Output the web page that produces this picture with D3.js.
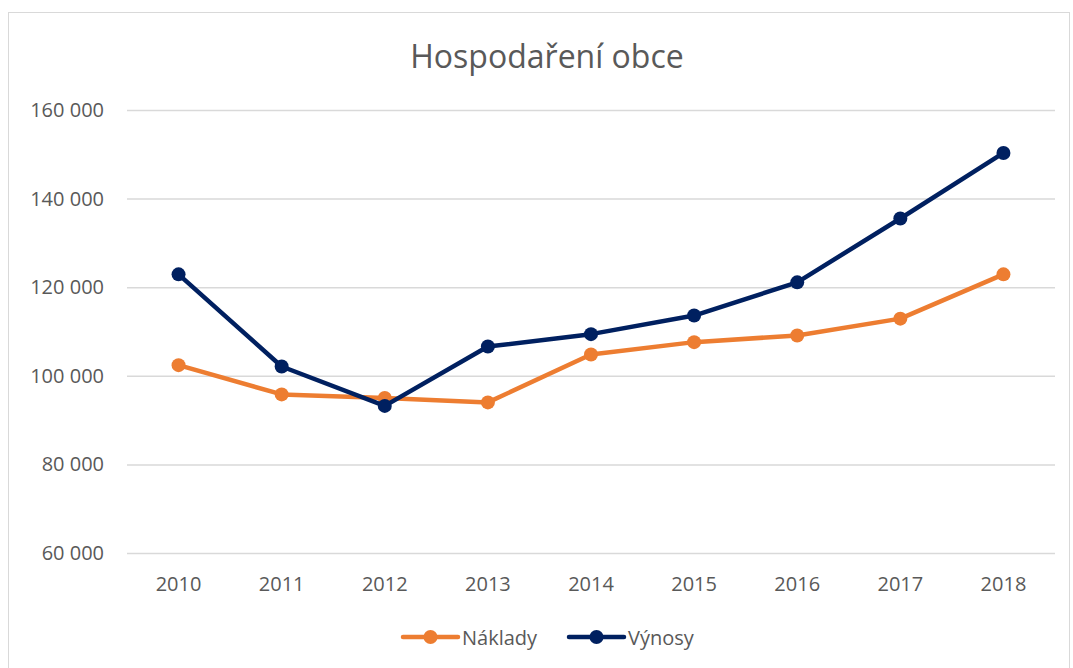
<!DOCTYPE html>
<html>
<head>
<meta charset="utf-8">
<script src="https://cdn.jsdelivr.net/npm/d3@7"></script>
<style>
  html, body { margin: 0; padding: 0; background: #fff; }
  svg text { font-family: "Open Sans", "Liberation Sans", sans-serif; fill: #595959; }
</style>
</head>
<body>
<div id="line-chart"></div>
<script>
// chart data
const years = ["2010", "2011", "2012", "2013", "2014", "2015", "2016", "2017", "2018"];
const naklady = [102400, 95800, 95000, 94000, 104800, 107600, 109100, 112900, 122900];
const vynosy = [122900, 102100, 93200, 106600, 109400, 113600, 121100, 135500, 150300];
const yTicks = [60000, 80000, 100000, 120000, 140000, 160000];
const seriesNames = ["Náklady", "Výnosy"];

function drawChart(cWidth, cHeight) {
  const margin = { left: 127, top: 110, right: 18, bottom: 115 },
    colors = ["#ed7d31", "#002060"],
    w = cWidth - margin.left - margin.right,
    h = cHeight - margin.top - margin.bottom,
    svg = d3
      .select("#line-chart")
      .append("svg")
      .attr("width", cWidth)
      .attr("height", cHeight);

  // chart border
  svg.append("rect")
    .attr("x", 8.5).attr("y", 12.5)
    .attr("width", cWidth - 12).attr("height", cHeight)
    .attr("fill", "none")
    .attr("stroke", "#d9d9d9");

  svg.append("text")
    .attr("x", 547).attr("y", 68)
    .attr("text-anchor", "middle")
    .style("font-size", "32px")
    .text("Hospodaření obce");

  const svgG = svg.append("g")
      .attr("transform", `translate(${margin.left}, ${margin.top})`),
    x = d3.scaleBand().domain(years).range([0, w]),
    y = d3.scaleLinear().domain([60000, 160000]).range([h, 0]);

  const fmt = d => d3.format(",")(d).replace(/,/g, " ");

  const yAxis = svgG.append("g")
    .call(d3.axisLeft(y).tickValues(yTicks).tickSize(-w).tickFormat(fmt));
  yAxis.select(".domain").remove();
  yAxis.selectAll(".tick line").attr("stroke", "#d9d9d9").attr("stroke-width", 1.5);
  yAxis.selectAll(".tick text")
    .attr("x", -23)
    .style("font-size", "20px");

  const xAxis = svgG.append("g")
    .attr("transform", `translate(0, ${h})`)
    .call(d3.axisBottom(x).tickSize(0));
  xAxis.select(".domain").remove();
  xAxis.selectAll(".tick text")
    .attr("y", 38)
    .attr("dy", 0)
    .style("font-size", "20px");

  const cx = d => x(d) + x.bandwidth() / 2;
  const line = d3.line().x((d, i) => cx(years[i])).y(d => y(d));

  [naklady, vynosy].forEach((vals, i) => {
    svgG.append("path")
      .datum(vals)
      .attr("fill", "none")
      .attr("stroke", colors[i])
      .attr("stroke-width", 4.5)
      .attr("stroke-linejoin", "round")
      .attr("d", line);
    svgG.selectAll(".pt" + i)
      .data(vals)
      .enter()
      .append("circle")
      .attr("cx", (d, j) => cx(years[j]))
      .attr("cy", d => y(d))
      .attr("r", 7)
      .attr("fill", colors[i]);
  });

  // legend
  const legendX = [403, 569], legendY = 637;
  seriesNames.forEach((name, i) => {
    const lg = svg.append("g").attr("transform", `translate(${legendX[i]}, ${legendY})`);
    lg.append("line")
      .attr("x1", 0).attr("x2", 55)
      .attr("stroke", colors[i]).attr("stroke-width", 4.5)
      .attr("stroke-linecap", "round");
    lg.append("circle").attr("cx", 27.5).attr("r", 7).attr("fill", colors[i]);
    lg.append("text")
      .attr("x", 59).attr("y", 7.5)
      .style("font-size", "20px")
      .text(name);
  });
}

drawChart(1073, 668);
</script>
</body>
</html>
